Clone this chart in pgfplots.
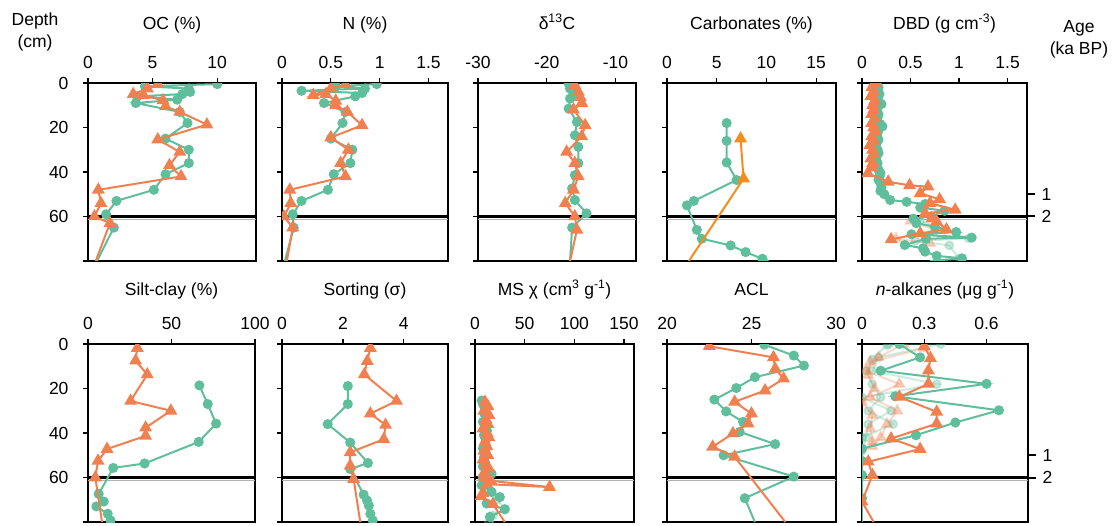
\documentclass[border=0pt]{standalone}
\usepackage{fontspec}
\setmainfont{Liberation Sans}
\usepackage{pgfplots}
\pgfplotsset{compat=1.18}
\definecolor{cg}{RGB}{95,190,155}
\definecolor{co}{RGB}{240,128,80}
\definecolor{cc}{RGB}{245,140,30}
\newcommand{\fs}{\fontsize{17.5}{20}\selectfont}
\pgfplotsset{
  panel/.style={
    scale only axis, anchor=north west, height=178pt,
    y dir=reverse, ymin=0, ymax=80, ytick={0,20,40,60,80}, yticklabels={},
    xtick pos=right, xticklabel pos=right, ytick pos=left,
    tick align=outside, major tick length=5pt,
    axis line style={line width=1.2pt}, tick style={line width=1.2pt, black},
    font=\fs, tick label style={font=\fs}, xticklabel style={yshift=6pt},
    title style={font=\fs, at={(0.5,1)}, anchor=base, yshift=48pt},
    /pgf/number format/assume math mode=true,
    clip marker paths=true,
  },
  bottomrow/.style={title style={yshift=-5pt}},
  firstcol/.style={yticklabels={0,20,40,60,{}}, yticklabel style={xshift=-11pt}},
  gl/.style={cg, line width=2pt, mark=*, mark size=4pt, mark options={solid, fill=cg, draw=cg}},
  ol/.style={co, line width=2pt, mark=triangle*, mark size=5.5pt, mark options={solid, fill=co, draw=co}},
  gt/.style={cg, line width=2pt, no markers},
  ot/.style={co, line width=2pt, no markers},
  gf/.style={gl, opacity=0.3},
  of/.style={ol, opacity=0.3},
  ageaxis/.style={scale only axis, anchor=north west, height=178pt, y dir=reverse, ymin=0, ymax=80,
    xmin=0, xmax=1, axis x line=none, axis y line*=right, y axis line style={draw=none},
    ytick={50,60}, yticklabels={1,2}, tick align=outside, major tick length=8pt,
    tick style={line width=2pt, black}, tick label style={font=\fs}, yticklabel style={xshift=3pt}},
}
\newcommand{\sixty}[2]{\addplot[black, line width=2.2pt, no markers] coordinates {(#1,60) (#2,60)};
  \addplot[gray!60, line width=0.8pt, no markers] coordinates {(#1,61.3) (#2,61.3)};}
\begin{document}
\begin{tikzpicture}
\path[use as bounding box] (0pt,0pt) rectangle (1119pt,-525pt);
\node[anchor=north, align=center, font=\fs] at (35pt,-9pt) {Depth\\[2pt](cm)};
\node[anchor=north, align=center, font=\fs] at (1079pt,-17pt) {Age\\[2pt](ka BP)};

% ---------- OC
\begin{axis}[panel, firstcol, at={(88pt,-83pt)}, width=168pt, xmin=0, xmax=13, xtick={0,5,10}, title={OC (\%)}]
\sixty{0}{13}
\addplot[gl] coordinates {(10,0.5) (4.4,1.5) (7.8,2.5) (7.9,4) (7.3,5) (3.8,6) (6.9,7.5) (3.7,9) (7.1,13) (7.7,18) (6.0,25) (7.8,30) (7.8,36) (6.0,41) (5.1,48) (2.2,53) (1.4,59) (2.0,65)};
\addplot[gt] coordinates {(2.0,65) (0.7,80)};
\addplot[ol] coordinates {(5.4,0.5) (4.6,2.5) (3.5,5) (4.3,5.5) (5.8,7.8) (6.0,10.5) (7.1,13) (9.2,18.7) (5.4,25.4) (7.1,31) (6.3,37) (7.2,42) (0.8,48) (1.0,54) (0.5,60) (1.7,63)};
\addplot[ot] coordinates {(1.7,63) (0.6,80)};
\end{axis}

% ---------- N
\begin{axis}[panel, at={(282pt,-83pt)}, width=166pt, xmin=0, xmax=1.7, xtick={0,0.5,1,1.5}, title={N (\%)}]
\sixty{0}{1.7}
\addplot[gl] coordinates {(0.97,0.5) (0.55,1.5) (0.85,2.5) (0.2,3.5) (0.82,4.5) (0.75,6) (0.43,9) (0.65,13) (0.62,18) (0.5,25) (0.72,30) (0.70,36) (0.53,41) (0.47,48) (0.2,53) (0.11,59) (0.12,65)};
\addplot[gt] coordinates {(0.12,65) (0.03,80)};
\addplot[ol] coordinates {(0.65,0.6) (0.5,2.5) (0.32,5.5) (0.45,5) (0.55,8) (0.55,10) (0.67,13) (0.82,19) (0.5,24.5) (0.68,30) (0.6,36) (0.65,42) (0.08,48) (0.09,54) (0.02,60) (0.11,65)};
\addplot[ot] coordinates {(0.11,65) (0.05,80)};
\end{axis}

% ---------- d13C
\begin{axis}[panel, at={(478pt,-83pt)}, width=158pt, xmin=-30, xmax=-7, xtick={-30,-20,-10}, title={δ\textsuperscript{13}C}]
\sixty{-30}{-7}
\addplot[gl] coordinates {(-16.8,0.3) (-16.6,2.5) (-15.6,4) (-16.2,5.5) (-16.6,7) (-16.8,11.5) (-15.6,17.5) (-15.9,23.5) (-15.4,28.7) (-15.4,36) (-15.9,41.4) (-16.3,47.4) (-15.9,52.6) (-14.2,58.6) (-16.3,65)};
\addplot[gt] coordinates {(-16.3,65) (-16.6,80)};
\addplot[ol] coordinates {(-15.9,1) (-15.4,4) (-15.1,6.5) (-14.9,9) (-16.1,12) (-14.4,19) (-14.9,24) (-17.1,31) (-15.9,36) (-15.4,42) (-16.1,48) (-17.3,54) (-15.9,60) (-15.6,66)};
\addplot[ot] coordinates {(-15.6,66) (-16.6,80)};
\end{axis}

% ---------- Carbonates
\begin{axis}[panel, at={(667pt,-83pt)}, width=169pt, xmin=0, xmax=17, xtick={0,5,10,15}, title={Carbonates (\%)}]
\sixty{0}{17}
\addplot[gl] coordinates {(6.0,18) (6.0,26) (6.0,35.7) (7.0,43.6) (2.7,53) (2.0,55) (3.0,66) (3.5,70) (6.4,73) (7.9,76) (9.6,79)};
\addplot[gt] coordinates {(9.6,79) (10.2,80)};
\addplot[cc, line width=2pt, mark=triangle*, mark size=5.5pt, mark options={solid, fill=cc, draw=cc}] coordinates {(7.4,25) (7.7,43)};
\addplot[cc, line width=2pt, no markers] coordinates {(7.7,43) (2.2,80)};
\end{axis}

% ---------- DBD
\begin{axis}[panel, at={(862pt,-83pt)}, width=165pt, xmin=0, xmax=1.7, xtick={0,0.5,1,1.5}, title={DBD (g cm\textsuperscript{-3})}]
\addplot[gf] coordinates {(0.6,62) (0.85,66) (1.1,69.8) (0.55,71) (0.9,73) (1.0,79)};
\addplot[of] coordinates {(0.5,62) (0.75,66) (0.35,70) (0.7,72)};
\sixty{0}{1.7}
\addplot[gl] coordinates {(0.15,0.5) (0.17,2) (0.16,3.5) (0.18,5) (0.15,6.5) (0.17,8) (0.2,9.5) (0.16,11) (0.14,12.5) (0.17,14) (0.16,15.5) (0.13,17) (0.19,18.5) (0.21,19.5) (0.17,21) (0.16,22.5) (0.15,24) (0.17,25.5) (0.15,27) (0.14,28.5) (0.16,30) (0.17,31.5) (0.15,33) (0.14,34.5) (0.16,36) (0.15,37.5) (0.17,39) (0.19,40.5) (0.18,42) (0.17,43.5) (0.19,45) (0.2,47) (0.19,48.5) (0.23,50) (0.29,52.6) (0.46,53.4) (0.65,54.4) (0.6,56) (0.85,57.4) (0.71,60) (0.53,61) (0.56,63) (0.75,64.6) (0.97,67) (0.51,68) (1.13,69.5) (0.66,70) (0.44,72.8) (0.63,74.3) (0.65,75.8) (0.77,77.7) (1.03,78.8)};
\addplot[gt] coordinates {(1.03,78.8) (0.7,80)};
\addplot[ol] coordinates {(0.14,0.5) (0.1,2) (0.12,4) (0.09,6) (0.13,8) (0.11,10) (0.12,12) (0.1,14) (0.13,16) (0.1,18) (0.12,20) (0.14,22) (0.1,24) (0.12,26) (0.08,28) (0.11,30) (0.12,32) (0.09,34) (0.11,36) (0.1,38) (0.06,40.6) (0.27,44.4) (0.49,46) (0.68,46.6) (0.6,49.6) (0.8,52.3) (0.7,54) (0.96,57) (0.65,58.6) (0.72,61) (0.77,62.3) (0.87,65.8) (0.6,67.6) (0.3,70.3)};
\end{axis}
\begin{axis}[ageaxis, at={(862pt,-83pt)}, width=165pt]
\addplot[draw=none] coordinates {(0,0)};
\end{axis}

% ---------- Silt-clay
\begin{axis}[panel, bottomrow, firstcol, at={(88pt,-344pt)}, width=167pt, xmin=0, xmax=100, xtick={0,50,100}, title={Silt-clay (\%)}]
\sixty{0}{100}
\addplot[gl] coordinates {(66.7,18.6) (71.7,27) (76.7,35.8) (66.3,44) (33.9,53.7) (15.1,55.7) (6.4,67.4) (9.4,70.8) (5,73) (11.8,76.3) (13.5,79.3)};
\addplot[ol] coordinates {(29.5,1.8) (28.5,7.5) (35.5,13.7) (25.5,25.6) (49.6,30) (34.5,37.6) (34.5,41.3) (11.4,47.2) (6,52.5) (4.4,60)};
\addplot[ot] coordinates {(4.4,60) (8.4,80)};
\end{axis}

% ---------- Sorting
\begin{axis}[panel, bottomrow, at={(282pt,-344pt)}, width=166pt, xmin=0, xmax=5.45, xtick={0,2,4}, title={Sorting (σ)}]
\sixty{0}{5.45}
\addplot[gl] coordinates {(2.16,18.9) (2.16,27) (1.5,36) (2.24,44.3) (2.82,53.5) (2.24,56.2) (2.68,67.7) (2.79,70.3) (2.85,72.6) (2.9,76.3) (2.98,79.3)};
\addplot[ol] coordinates {(2.9,1.8) (2.8,7.7) (2.7,13.7) (3.76,25.6) (2.9,31.3) (3.4,36.4) (3.34,42.8) (2.24,48.7) (2.24,54.7) (2.35,60.7)};
\addplot[ot] coordinates {(2.35,60.7) (2.57,80)};
\end{axis}

% ---------- MS
\begin{axis}[panel, bottomrow, at={(475pt,-344pt)}, width=159pt, xmin=0, xmax=160, xtick={0,50,100,150}, title={MS χ (cm\textsuperscript{3} g\textsuperscript{-1})}]
\addplot[gf] coordinates {(15,66) (22,70) (30,74) (18,77) (14,80)};
\sixty{0}{160}
\addplot[gl] coordinates {(6.7,25.4) (8,27) (10,29) (9,31) (11,33) (8,35) (10,37) (12,39) (9,41) (11,43) (10,45) (8,47) (11,49) (9,51) (10,53) (8,55) (12,57) (16.7,58.3) (8,60.5) (6.7,63.5) (16.7,66.5) (25,68.8) (11.7,71.7) (30,74.3) (15,77.7)};
\addplot[gt] coordinates {(15,77.7) (18,80)};
\addplot[ol] coordinates {(10,26) (13,28) (9,30) (14,32) (11,34) (13,36) (8,38) (12,40) (14,42) (10,44) (12,46) (9,48) (13,50) (8,52) (11,54) (14,56) (9,58) (10,59.8) (16,61.5) (75,64.3) (12,63) (8,67) (6,68.5) (18,72)};
\addplot[ot] coordinates {(18,72) (30,80)};
\end{axis}

% ---------- ACL
\begin{axis}[panel, bottomrow, at={(667pt,-344pt)}, width=169pt, xmin=20, xmax=30, xtick={20,25,30}, title={ACL}]
\sixty{20}{30}
\addplot[gl] coordinates {(25.76,0.3) (27.5,5.2) (28.1,9.7) (25.2,14.9) (24.1,19.8) (22.8,25) (23.5,30.3) (24.5,35) (24.3,39.5) (26.4,45) (23.35,50) (27.5,59.6) (24.6,69.3)};
\addplot[gt] coordinates {(24.6,69.3) (25.2,80)};
\addplot[ol] coordinates {(22.5,1) (26.3,6) (26.4,11.2) (26.9,15.6) (25.8,20.9) (24.0,26) (25.0,31.3) (24.8,35.8) (23.9,40.2) (22.7,46.2) (24.0,50.7)};
\addplot[ot] coordinates {(24.0,50.7) (27.0,80)};
\end{axis}

% ---------- n-alkanes
\begin{axis}[panel, bottomrow, at={(862pt,-344pt)}, width=166pt, xmin=0, xmax=0.8, xtick={0,0.3,0.6}, title={\textit{n}-alkanes (μg g\textsuperscript{-1})}]
\addplot[gf] coordinates {(0.13,0) (0.38,0) (0.08,6) (0.05,12) (0.36,18) (0.0,24) (0.14,30) (0.03,36) (0.02,42) (0.0,48)};
\addplot[gf] coordinates {(0.12,0.5) (0.05,7) (0.02,12) (0.05,18) (0.09,24) (0.03,30) (0.15,36) (0.0,42)};
\addplot[of] coordinates {(0.2,0) (0.08,6) (0.02,12) (0.18,18) (0.04,24) (0.17,30) (0.12,36) (0.09,42) (0.05,46)};
\addplot[of] coordinates {(0.3,2) (0.04,8) (0.03,14) (0.06,20) (0.0,26) (0.05,32) (0.04,38) (0.05,44)};
\sixty{0}{0.8}
\addplot[gl] coordinates {(0.18,0) (0.28,6) (0.09,12) (0.6,17.9) (0.16,23.5) (0.66,29.8) (0.45,35.3) (0.26,41) (0,47) (0,52.6) (0,58.9) (0,69.3)};
\addplot[gt] coordinates {(0,69.3) (0,80)};
\addplot[ol] coordinates {(0.3,1) (0.33,6.4) (0.32,12) (0.32,17.9) (0.18,23.8) (0.36,30.5) (0.36,35.8) (0.14,42.5) (0.28,47.2) (0.03,52.9) (0.05,58.9) (0,70.8)};
\addplot[ot] coordinates {(0,70.8) (0.056,80)};
\end{axis}
\begin{axis}[ageaxis, at={(862pt,-344pt)}, width=166pt]
\addplot[draw=none] coordinates {(0,0)};
\end{axis}
\end{tikzpicture}
\end{document}
